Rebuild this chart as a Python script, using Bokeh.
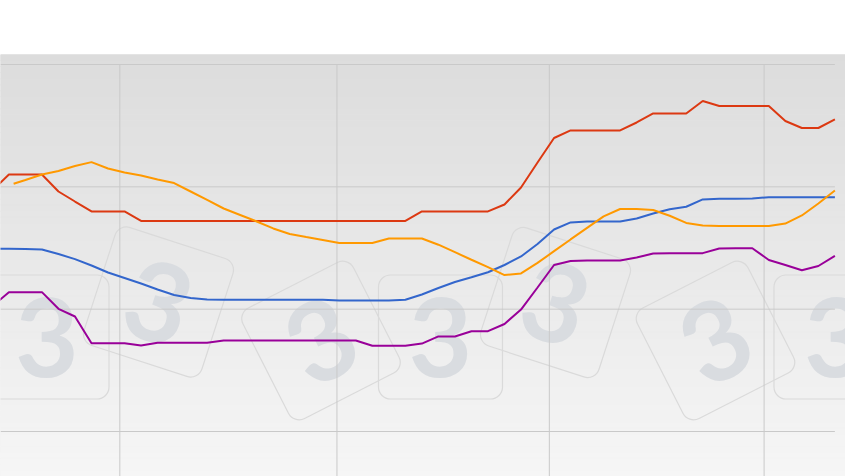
import numpy as np
import pandas as pd
from bokeh.plotting import figure
from bokeh.models import Range1d
from bokeh.core.properties import value
from bokeh.embed import file_html
from bokeh.resources import INLINE

# ---------------- data ----------------
week_dates = list(pd.date_range("2012-08-08", "2013-07-31", freq="7D"))  # 52 weekly points
orange_dates = [pd.Timestamp("2012-08-17")] + week_dates[2:]

blue = [24.94, 24.94, 24.92, 24.88, 24.51, 24.09, 23.57, 23.00, 22.55, 22.10,
        21.61, 21.16, 20.91, 20.79, 20.77, 20.77, 20.77, 20.77, 20.77, 20.77,
        20.77, 20.71, 20.71, 20.71, 20.71, 20.77, 21.20, 21.73, 22.22, 22.61,
        23.02, 23.61, 24.31, 25.33, 26.51, 27.09, 27.17, 27.17, 27.17, 27.41,
        27.82, 28.17, 28.37, 28.97, 29.02, 29.02, 29.05, 29.15, 29.15, 29.15,
        29.15, 29.15]

red = [29.70, 31.01, 31.01, 31.01, 29.62, 28.80, 27.99, 27.99, 27.99, 27.21,
       27.21, 27.21, 27.21, 27.21, 27.21, 27.21, 27.21, 27.21, 27.21, 27.21,
       27.21, 27.21, 27.21, 27.21, 27.21, 27.21, 27.99, 27.99, 27.99, 27.99,
       27.99, 28.56, 29.95, 31.99, 33.99, 34.61, 34.61, 34.61, 34.61, 35.26,
       36.00, 36.00, 36.00, 37.02, 36.61, 36.61, 36.61, 36.61, 35.38, 34.81,
       34.81, 35.51]

orange = [30.25, 30.56, 31.01, 31.30, 31.70, 32.02, 31.50, 31.17, 30.93, 30.60,
          30.31, 29.62, 28.93, 28.23, 27.70, 27.17, 26.60, 26.15, 25.90, 25.66,
          25.41, 25.41, 25.41, 25.78, 25.78, 25.78, 25.27, 24.66, 24.04, 23.43,
          22.79, 22.92, 23.78, 24.74, 25.70, 26.64, 27.58, 28.19, 28.19, 28.11,
          27.64, 27.05, 26.84, 26.80, 26.80, 26.80, 26.80, 27.00, 27.66, 28.64,
          29.70]

purple = [20.24, 21.39, 21.39, 21.39, 20.03, 19.40, 17.22, 17.22, 17.22, 17.03,
          17.25, 17.25, 17.25, 17.25, 17.44, 17.44, 17.44, 17.44, 17.44, 17.44,
          17.44, 17.44, 17.44, 17.01, 17.01, 17.01, 17.19, 17.77, 17.77, 18.20,
          18.20, 18.79, 19.97, 21.77, 23.61, 23.94, 23.98, 23.98, 23.98, 24.22,
          24.55, 24.58, 24.58, 24.58, 24.96, 24.98, 24.98, 24.02, 23.61, 23.18,
          23.53, 24.35]

x_ticks = ["2012-10-01", "2013-01-01", "2013-04-01", "2013-07-01"]
y_ticks = [10, 20, 30, 40]

series_colors = {"blue": "#3366cc", "red": "#dc3912", "orange": "#ff9900", "purple": "#990099"}

# ---------------- layout helpers ----------------
DAY = 86400000.0


def ms(t):
    return pd.Timestamp(t).value / 1e6


T0 = ms("2012-08-15")
PX0, PX_WEEK = 8.4, 16.52        # page px of T0, px per week
PY10, PX_UNIT = 431.0, 12.233    # page px of y=10, px per unit


def xdata(px):
    return T0 + (px - PX0) / PX_WEEK * 7 * DAY


def ydata(py):
    return 10 + (PY10 - py) / PX_UNIT


W, H = 845, 476
TOP = 54
x0, x1 = xdata(0), xdata(W)
y0, y1 = ydata(H), ydata(TOP)

p = figure(width=W, height=H, output_backend="svg", toolbar_location=None,
           x_range=Range1d(x0, x1), y_range=Range1d(y0, y1),
           x_axis_location=None, y_axis_location=None,
           min_border_top=TOP, min_border_left=0, min_border_right=0, min_border_bottom=0)
p.outline_line_color = None
p.border_fill_color = "white"
p.background_fill_color = "#e8e8e8"
p.xgrid.visible = False
p.ygrid.visible = False

# gradient background
n = 70
edges = np.linspace(y0, y1, n + 1)
top_c, bot_c = np.array([220, 220, 220]), np.array([246, 246, 246])
cols = []
for i in range(n):
    f = (i + 0.5) / n
    c = bot_c + (top_c - bot_c) * f
    cols.append("#%02x%02x%02x" % tuple(int(round(v)) for v in c))
p.quad(left=x0, right=x1, bottom=edges[:-1], top=edges[1:], fill_color=cols, line_color=cols, line_width=1)

# watermark tiles
wm_px = [46.5, 158, 320.5, 440, 555, 715, 835.5]
wm_py = [336.5, 301.5, 340, 336.5, 302, 340, 336.5]
wm_deg = [0, -18, 27, 0, -18, 27, 0]
wx = [xdata(v) for v in wm_px]
wy = [ydata(v) for v in wm_py]
wa = [np.radians(d) for d in wm_deg]
p.rect(x=wx, y=wy, width=124, height=124, width_units="screen", height_units="screen",
       angle=wa, fill_color=None, line_color="#dadada", line_width=1.2, border_radius=12)
p.text(x=wx, y=wy, text=["3"] * len(wx), angle=wa, text_font=value("Lato"),
       text_font_style="bold", text_font_size="110px", text_color="#d9dce0",
       text_align="center", text_baseline="middle")

# grid
x_end = ms(week_dates[-1])
tick_ms = [ms(t) for t in x_ticks]
p.segment(x0=tick_ms, y0=[max(y_ticks)] * len(tick_ms), x1=tick_ms, y1=[y0] * len(tick_ms),
          line_color="#c9c9c9", line_width=1)
p.segment(x0=[x0] * len(y_ticks), y0=y_ticks, x1=[x_end] * len(y_ticks), y1=y_ticks,
          line_color="#c9c9c9", line_width=1)

# series
wk = [ms(t) for t in week_dates]
od = [ms(t) for t in orange_dates]
p.line(wk, blue, line_color=series_colors["blue"], line_width=2)
p.line(wk, red, line_color=series_colors["red"], line_width=2)
p.line(od, orange, line_color=series_colors["orange"], line_width=2)
p.line(wk, purple, line_color=series_colors["purple"], line_width=2)

open("out.html", "w").write(file_html(p, INLINE))
